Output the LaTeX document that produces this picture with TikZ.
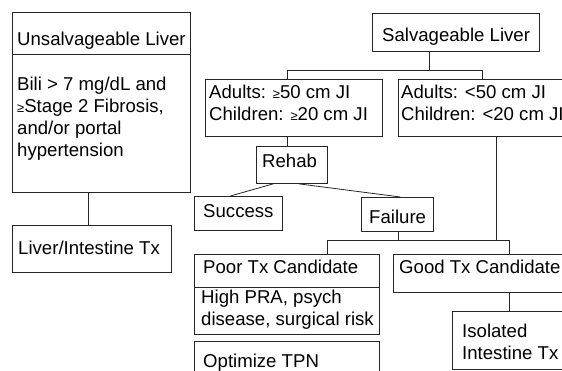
\documentclass[tikz,border=0pt]{standalone}
\usepackage{fontspec}
\setmainfont{Liberation Sans}
\newcommand\smge{{\fontsize{13}{13}\selectfont ≥}}
\begin{document}
\begin{tikzpicture}[x=1pt,y=-1pt,
  box/.style={draw=black!85, line width=0.8pt, rectangle, inner sep=0pt, anchor=north west},
  txt/.style={anchor=base west, inner sep=0pt, font=\fontsize{18.6}{21.8}\selectfont, align=left},
  conn/.style={draw=black!85, line width=0.8pt}]
\useasboundingbox (0,0) rectangle (562,371);
\clip (0,0) rectangle (562,371);
% boxes
\node[box, minimum width=178pt, minimum height=42pt] (unsalH) at (12,12) {};
\node[box, minimum width=178pt, minimum height=138pt] (unsalB) at (12,54) {};
\node[box, minimum width=159pt, minimum height=47pt] (livtx) at (12,225) {};
\node[box, minimum width=167pt, minimum height=38pt] (salv) at (372,13) {};
\node[box, minimum width=177pt, minimum height=57pt] (adA) at (205,79) {};
\node[box, minimum width=200pt, minimum height=57pt] (adB) at (398,79) {};
\node[box, minimum width=71pt, minimum height=37pt] (rehab) at (256,146) {};
\node[box, minimum width=88pt, minimum height=34pt] (success) at (194,196) {};
\node[box, minimum width=72pt, minimum height=34pt] (failure) at (361,197) {};
\node[box, minimum width=185pt, minimum height=33pt] (poorH) at (194,254) {};
\node[box, minimum width=185pt, minimum height=47pt] (poorB) at (194,287) {};
\node[box, minimum width=185pt, minimum height=60pt] (optim) at (194,341) {};
\node[box, minimum width=200pt, minimum height=38pt] (good) at (393,254) {};
\node[box, minimum width=150pt, minimum height=58pt] (iso) at (452,311) {};
% texts (base anchor = baseline of last line)
\node[txt] (tUnsalH) at (17,46) {Unsalvageable Liver};
\node[txt] (tUnsalB) at (17,156.4) {Bili > 7 mg/dL and\\\smge Stage 2 Fibrosis,\\and/or portal\\hypertension};
\node[txt] (tLivtx) at (18,255) {Liver/Intestine Tx};
\node[txt] (tSalv) at (382,42) {Salvageable Liver};
\node[txt] (tAdA) at (209,120.8) {Adults: \smge 50 cm JI\\Children: \smge 20 cm JI};
\node[txt] (tAdB) at (401,120.8) {Adults: <50 cm JI\\Children: <20 cm JI};
\node[txt] (tRehab) at (262,168) {Rehab};
\node[txt] (tSuccess) at (203,218) {Success};
\node[txt] (tFailure) at (369,224) {Failure};
\node[txt] (tPoorH) at (203,274) {Poor Tx Candidate};
\node[txt] (tPoorB) at (201,325) {High PRA, psych\\disease, surgical risk};
\node[txt] (tOptim) at (203,367) {Optimize TPN};
\node[txt] (tGood) at (399,273) {Good Tx Candidate};
\node[txt] (tIso) at (462,359.5) {Isolated\\Intestine Tx};
% connectors
\draw[conn] (unsalB.south -| livtx.north) ++(-3.5,0) -- ([xshift=-3.5pt]livtx.north);
\draw[conn] ([xshift=-26.5pt]salv.south) -- ++(0,19) coordinate (j1);
\draw[conn] ([xshift=-6.5pt]adA.north) |- (j1) -| ([xshift=-16pt]adB.north);
\draw[conn] ([xshift=-6.5pt]adA.south) -- ([xshift=-4.5pt]rehab.north);
\draw[conn] ([xshift=-18.5pt]rehab.south) -- ([xshift=-8pt]success.north);
\draw[conn] ([xshift=6.5pt]rehab.south) -- ([xshift=3pt]failure.north);
\draw[conn] ([xshift=1pt]failure.south) -- ++(0,9) coordinate (j2);
\draw[conn] ([xshift=40.5pt]poorH.north) |- (j2) -| ([xshift=16pt]good.north);
\draw[conn] ([xshift=-2pt]adB.south) -- ([xshift=-2pt]adB.south |- j2);
\draw[conn] ([xshift=16pt]good.south) -- ([xshift=-18pt]iso.north);
\end{tikzpicture}
\end{document}
